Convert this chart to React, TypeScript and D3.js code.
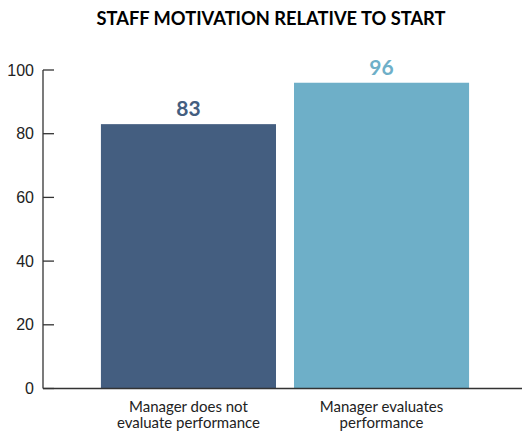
import React from 'react';
import * as d3 from 'd3';

const categories = ['Manager does not evaluate performance', 'Manager evaluates performance'];
const labelLines = [
    ['Manager does not', 'evaluate performance'],
    ['Manager evaluates', 'performance'],
];
const values = [83, 96];
const barColors = ['#445e80', '#6eafc8'];
const yTicks = [0, 20, 40, 60, 80, 100];

const App = () => {
    const width = 522;
    const height = 432;
    const margin = { top: 70, right: 0, bottom: 43.5, left: 43 };

    const x = d3.scaleBand()
        .domain(categories)
        .range([margin.left, 527])
        .paddingInner(0.0933)
        .paddingOuter(0.3);

    const y = d3.scaleLinear()
        .domain([0, 100])
        .range([height - margin.bottom, margin.top]);

    return (
        <svg width={width} height={height} style={{ position: 'absolute', left: 0, top: 0 }}>
            <text x={271} y={25} textAnchor="middle" fontFamily="Lato" fontWeight="bold"
                fontSize={18.3} fill="#000">
                STAFF MOTIVATION RELATIVE TO START
            </text>

            {/* bars */}
            {categories.map((c, i) => (
                <rect key={c} x={x(c)} y={y(values[i])} width={x.bandwidth()}
                    height={y(0) - y(values[i])} fill={barColors[i]} />
            ))}

            {/* value labels */}
            {categories.map((c, i) => (
                <text key={c} x={(x(c) as number) + x.bandwidth() / 2} y={y(values[i]) - 8}
                    textAnchor="middle" fontFamily="Lato" fontWeight="bold" fontSize={21}
                    fill={barColors[i]}>
                    {values[i]}
                </text>
            ))}

            {/* y axis */}
            <line x1={margin.left} x2={margin.left} y1={y(0)} y2={y(100)} stroke="#333" strokeWidth={1.3} />
            {yTicks.map((t) => (
                <g key={t}>
                    <line x1={margin.left} x2={margin.left + 11} y1={y(t)} y2={y(t)} stroke="#333" strokeWidth={1.3} />
                    <text x={margin.left - 9} y={y(t) + 5.5} textAnchor="end" fontFamily="Liberation Sans"
                        fontSize={16} fill="#222">
                        {t}
                    </text>
                </g>
            ))}

            {/* x baseline */}
            <line x1={margin.left} x2={width} y1={y(0)} y2={y(0)} stroke="#333" strokeWidth={1.3} />

            {/* category labels */}
            {categories.map((c, i) => (
                <text key={c} textAnchor="middle" fontFamily="Lato" fontSize={15} fill="#222">
                    {labelLines[i].map((line, j) => (
                        <tspan key={j} x={(x(c) as number) + x.bandwidth() / 2} y={411.5 + j * 16.5}>
                            {line}
                        </tspan>
                    ))}
                </text>
            ))}
        </svg>
    );
};

export default App;
